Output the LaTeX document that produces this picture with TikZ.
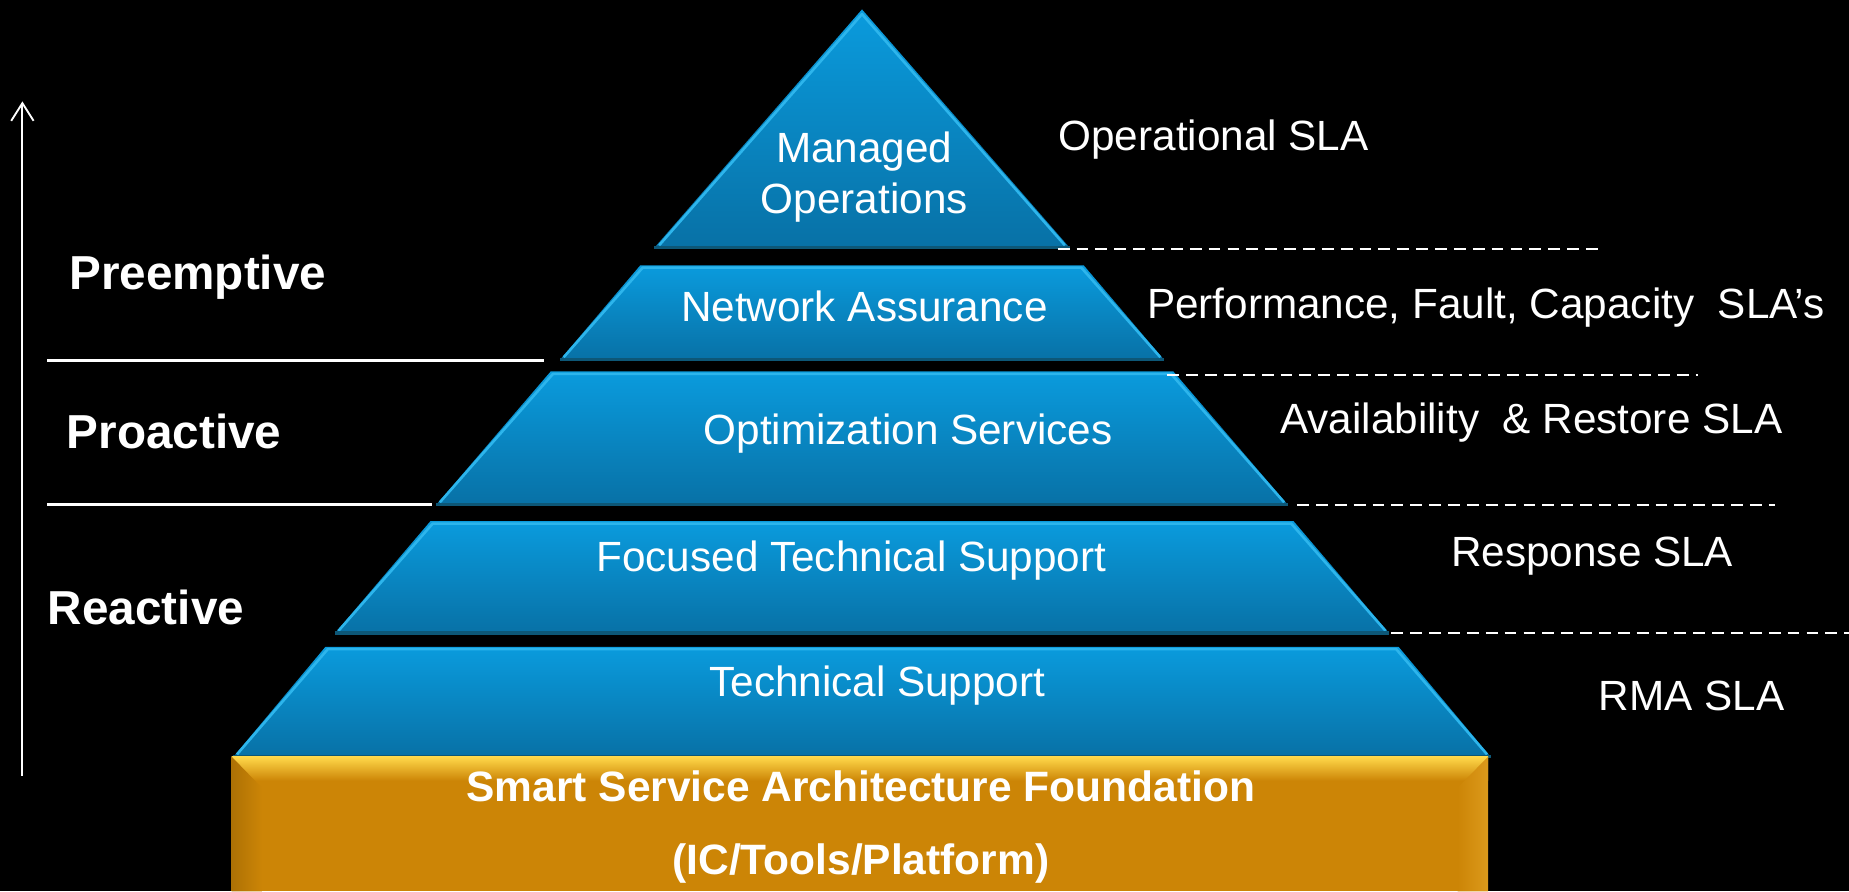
\documentclass[tikz,border=0pt]{standalone}
\usepackage{fontspec}
\setmainfont{Liberation Sans}
\usetikzlibrary{calc,arrows.meta}
\usepackage{xcolor}

\definecolor{tiertop}{HTML}{0A9BDD}
\definecolor{tierbot}{HTML}{0871A6}
\definecolor{tierhi}{HTML}{2DB5EC}
\definecolor{tierlo}{HTML}{0D5777}
\definecolor{basebody}{HTML}{CC8506}
\definecolor{basehi}{HTML}{FFD84A}
\definecolor{baseside}{HTML}{DC9A1C}

\tikzset{
	tier/.style={top color=tiertop, bottom color=tierbot},
	bevel/.style={tierhi, line width=0.22mm, line join=round},
	rim/.style={tierlo, line width=0.3mm},
	tiertext/.style={white, font=\fontsize{10.2}{12.2}\selectfont, align=center},
	basetext/.style={white, font=\fontsize{10.25}{17.6}\selectfont\bfseries, align=center},
	slatext/.style={white, font=\fontsize{10.2}{12.2}\selectfont, anchor=mid west, inner sep=0pt},
	leveltext/.style={white, font=\fontsize{11.5}{13}\selectfont\bfseries, anchor=mid west, inner sep=0pt},
	divider/.style={white, line width=0.28mm},
	slaline/.style={white, line width=0.2mm, dash pattern=on 1mm off 0.6mm}
}

\begin{document}
\begin{tikzpicture}[x=0.1mm, y=-0.1mm]
		\useasboundingbox (0,0) rectangle (1568,756);
		\fill[black] (0,0) rectangle (1568,756);
		\def\cx{731}

		\coordinate (axisbot) at (19,658);
		\coordinate (axistop) at (19,86);
		\draw[white, line width=0.45pt, -{Straight Barb[length=1.5mm,width=1.9mm]}] (axisbot) -- (axistop);

		\shade[tier] (\cx,8) -- (\cx+176,210) -- (\cx-176,210) -- cycle;
		\draw[bevel] (\cx-172,208) -- (\cx,12) -- (\cx+172,208);
		\draw[rim] (\cx-176,210) -- (\cx+176,210);

		\foreach \ty/\by/\th/\bh in {225/305/188/256, 315/428/264/361, 442/537/366/447, 548.5/641.7/455/533}{
			\shade[tier] (\cx-\th,\ty) -- (\cx+\th,\ty) -- (\cx+\bh,\by) -- (\cx-\bh,\by) -- cycle;
			\draw[bevel] (\cx-\bh+3,\by-2) -- (\cx-\th+2,\ty+2) -- (\cx+\th-2,\ty+2) -- (\cx+\bh-3,\by-2);
			\draw[rim] (\cx-\bh,\by) -- (\cx+\bh,\by);
		}

		\fill[basebody] (196.5,641.7) rectangle (1262,756);
		\shade[top color=basehi, bottom color=basebody] (196.5,641.7) rectangle (1262,662);
		\shade[left color=basebody!85!black, right color=basebody] (196.5,641.7) -- (222,668) -- (222,756) -- (196.5,756) -- cycle;
		\shade[left color=basebody, right color=baseside] (1262,641.7) -- (1236,668) -- (1236,756) -- (1262,756) -- cycle;

		\node[tiertext] (mo) at (733,150) {Managed\\Operations};
		\node[tiertext] (na) at (733,260) {Network Assurance};
		\node[tiertext] (os) at (770,368) {Optimization Services};
		\node[tiertext] (fts) at (722,475) {Focused Technical Support};
		\node[tiertext] (ts) at (744,581) {Technical Support};
		\node[basetext] (ssa) at (730,701) {Smart Service Architecture Foundation\\(IC/Tools/Platform)};

		\node[leveltext] (pre) at (58,236) {Preemptive};
		\node[leveltext] (pro) at (56,371) {Proactive};
		\node[leveltext] (rea) at (40,520) {Reactive};
		\draw[divider] (40,306) -- (461,306);
		\draw[divider] (40,428) -- (366,428);

		\node[slatext] (osla) at (897,118) {Operational SLA};
		\node[slatext] (pfc) at (972,261) {Performance, Fault, Capacity \ SLA’s};
		\node[slatext] (ar) at (1085,358) {Availability \ \& Restore SLA};
		\node[slatext] (rsla) at (1230,471) {Response SLA};
		\node[slatext] (rma) at (1355,593) {RMA SLA};
		\draw[slaline] (897,211) -- (1357,211);
		\draw[slaline] (990,318) -- (1440,318);
		\draw[slaline] (1100,428) -- (1505,428);
		\draw[slaline] (1180,537) -- (1568,537);
		\end{tikzpicture}
\end{document}
